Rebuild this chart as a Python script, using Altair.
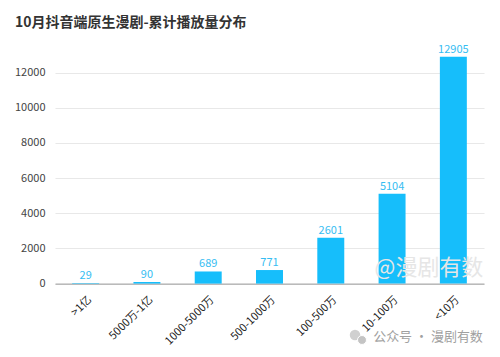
import altair as alt
import pandas as pd

categories = [">1亿", "5000万-1亿", "1000-5000万", "500-1000万", "100-500万", "10-100万", "<10万"]
values = [29, 90, 689, 771, 2601, 5104, 12905]
y_ticks = [0, 2000, 4000, 6000, 8000, 10000, 12000]
title_text = ["10月抖音端原生漫剧-累计播放量分布"]

df = pd.DataFrame({"cat": categories, "val": values})
FONT = "Noto Sans CJK SC"
BLUE = "#16BEFB"

base = alt.Chart(df).encode(
    x=alt.X("cat:N", sort=categories,
            scale=alt.Scale(paddingInner=0.56, paddingOuter=0.28),
            axis=alt.Axis(title=None, labelAngle=-45, labelFontSize=11, labelColor="#222222",
                          labelFont=FONT, ticks=False, domainColor="#9a9a9a", labelPadding=10)),
    y=alt.Y("val:Q", scale=alt.Scale(domain=[0, 13000], nice=False),
            axis=alt.Axis(title=None, values=y_ticks, domain=False, ticks=False, format="d",
                          labelFontSize=11, labelColor="#444444", labelPadding=10,
                          gridColor="#e8e8e8", labelFont=FONT))
)

bars = base.mark_bar(color=BLUE)
labels = base.mark_text(dy=-7, fontSize=11, color="#36bdf2", font=FONT).encode(text="val:Q")

title = alt.Chart(pd.DataFrame({"t": title_text})).mark_text(
    fontSize=14, fontWeight="bold", color="#333333", font=FONT, align="left", baseline="middle"
).encode(text="t:N", x=alt.value(-40), y=alt.value(-32))

wm1 = alt.Chart(pd.DataFrame({"t": ["@漫剧有数"]})).mark_text(
    fontSize=22, color="#e6e6e6", font=FONT
).encode(text="t:N", x=alt.value(374), y=alt.value(213))
wm2 = alt.Chart(pd.DataFrame({"t": ["公众号 · 漫剧有数"]})).mark_text(
    fontSize=13, color="#a0a0a0", font=FONT
).encode(text="t:N", x=alt.value(373), y=alt.value(282))
icon1 = alt.Chart(pd.DataFrame({"t": ["a"]})).mark_point(
    shape="circle", filled=True, size=110, color="#d0d0d0", opacity=1
).encode(x=alt.value(300), y=alt.value(280))
icon2 = alt.Chart(pd.DataFrame({"t": ["b"]})).mark_point(
    shape="circle", filled=True, size=80, color="#c4c4c4", opacity=1, stroke="white", strokeWidth=1
).encode(x=alt.value(307), y=alt.value(285))

chart = alt.layer(bars, labels, wm1, wm2, icon1, icon2, title).properties(
    width=429, height=228.6,
    autosize=alt.AutoSizeParams(type="none"),
    padding={"left": 55, "top": 55, "right": 16, "bottom": 73},
    background="white",
).configure_view(strokeOpacity=0)

chart.save("out.html", embed_options={"renderer": "svg", "actions": False})
